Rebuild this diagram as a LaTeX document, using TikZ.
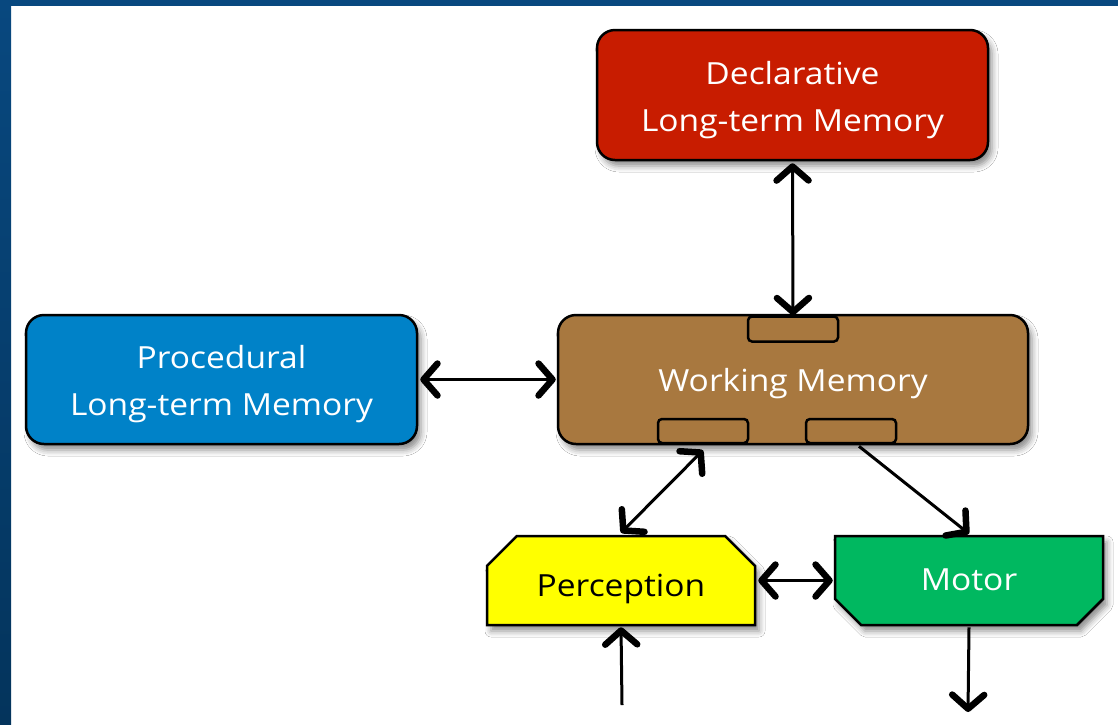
\documentclass[tikz,border=0pt]{standalone}
\usepackage{fontspec}
\setmainfont[FakeStretch=1.1]{Open Sans}
\usetikzlibrary{arrows.meta,shapes.misc,shadows.blur,calc}
\definecolor{frametop}{HTML}{08487F}
\definecolor{framebot}{HTML}{04345C}
\definecolor{declred}{HTML}{C81C00}
\definecolor{procblue}{HTML}{0082C8}
\definecolor{wmbrown}{HTML}{A8783F}
\definecolor{percyellow}{HTML}{FFFF00}
\definecolor{motorgreen}{HTML}{00B860}
\newcommand{\shiftdown}[2]{\raisebox{#1}[\height][\depth]{#2}}
\tikzset{
  sh/.style={blur shadow={shadow xshift=4pt, shadow yshift=-6pt, shadow blur radius=6pt, shadow opacity=45}},
  membox/.style={draw=black, line width=2.5pt, rounded corners=18pt, sh, text=white,
    align=center, inner sep=0pt, font=\fontsize{30.5}{47}\selectfont},
  tabbox/.style={draw=black, line width=2.5pt, rounded corners=4pt, fill=wmbrown,
    minimum width=90pt, minimum height=25pt, inner sep=0pt},
  chambox/.style={chamfered rectangle, chamfered rectangle xsep=15pt, chamfered rectangle ysep=15pt,
    draw=black, line width=2.5pt, sh, minimum width=268pt, minimum height=89pt, inner sep=0pt,
    font=\fontsize{30.5}{40}\selectfont},
  barb/.tip={Straight Barb[length=14pt, width=32pt, line width=6.5pt, round]},
  conn/.style={line width=3pt, draw=black}
}
\begin{document}
\begin{tikzpicture}[x=1pt, y=-1pt]
\useasboundingbox (0,0) rectangle (1118,724);
\fill[white] (0,0) rectangle (1118,724);
\shade[top color=frametop, bottom color=framebot] (0,0) rectangle (11,724);
\fill[frametop] (0,0) rectangle (1118,6);

\node[membox, fill=declred, minimum width=391pt, minimum height=130pt] (decl) at (792.5,95)
  {\shiftdown{-5pt}{Declarative}\\\shiftdown{-5pt}{Long-term Memory}};
\node[membox, fill=procblue, minimum width=391pt, minimum height=129pt] (proc) at (221.5,379.5)
  {\shiftdown{-5pt}{Procedural}\\\shiftdown{-5pt}{Long-term Memory}};
\node[membox, fill=wmbrown, minimum width=470pt, minimum height=129pt] (wm) at (793,379.5)
  {\shiftdown{-4pt}{Working Memory}};
\node[tabbox] (tabT) at (793,329) {};
\node[tabbox, minimum height=24pt] (tabBL) at (703,431) {};
\node[tabbox, minimum height=24pt] (tabBR) at (851,431) {};

\node[chambox, chamfered rectangle corners={north west,north east}, fill=percyellow, text=black]
  (perc) at (621,580.5) {\shiftdown{-8pt}{Perception}};
\node[chambox, chamfered rectangle corners={south west,south east}, fill=motorgreen, text=white]
  (motor) at (969,580.5) {\shiftdown{1pt}{Motor}};

\coordinate (in) at (622,705);
\coordinate (out) at (968,712);

\draw[conn, barb-barb] ([yshift=-2pt]decl.south) -- (tabT.north);
\draw[conn, barb-barb] ([xshift=2pt]proc.east) -- ([xshift=-1pt]wm.west);
\draw[conn, barb-barb] ([yshift=-6pt]tabBL.south) -- ([yshift=2pt]perc.north);
\draw[conn, -barb] ([xshift=8pt,yshift=-2pt]tabBR.south) -- ([yshift=1pt]motor.north);
\draw[conn, barb-barb] ([xshift=2pt]perc.east) -- ([xshift=-1pt]motor.west);
\draw[conn, -barb] (in) -- ([yshift=-1pt]perc.south);
\draw[conn, -barb] ([yshift=-1pt]motor.south) -- (out);
\end{tikzpicture}
\end{document}
